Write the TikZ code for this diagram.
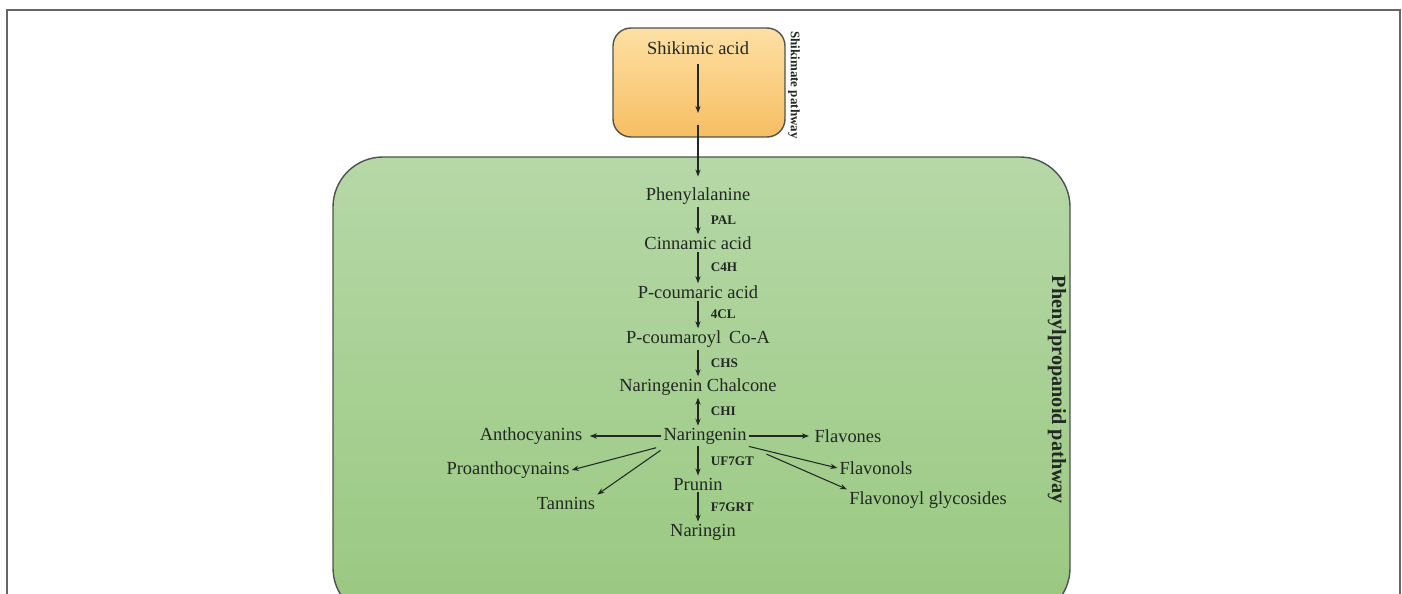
\documentclass[tikz,border=0pt]{standalone}
\usepackage{fontspec}
\setmainfont{Liberation Serif}
\usetikzlibrary{arrows.meta}
\definecolor{shiktop}{RGB}{253,224,164}
\definecolor{shikbot}{RGB}{247,190,98}
\definecolor{phentop}{RGB}{182,216,167}
\definecolor{phenbot}{RGB}{153,200,128}
\definecolor{ink}{RGB}{34,40,34}

\begin{document}
\begin{tikzpicture}[x=0.02cm,y=-0.02cm,>={Stealth[length=4pt,width=3pt]},line width=.6pt,
  txt/.style={font=\fontsize{10.5}{12}\selectfont,text=ink,inner sep=1pt},
  enz/.style={font=\bfseries\fontsize{7.5}{8}\selectfont,text=ink,right,inner sep=1pt,xshift=6pt},
  flow/.style={->,draw=ink},
  side/.style={rotate=-90,font=\bfseries,text=ink,inner sep=0pt}]
\useasboundingbox (0,0) rectangle (1402,594);
\clip (0,0) rectangle (1402,594);

% frame and pathway boxes
\draw[gray!80!black,line width=.8pt] (7,600) -- (7,10) -- (1400,10) -- (1400,600);
\draw[draw=ink!80,line width=.8pt,rounded corners=0.36cm,top color=shiktop,bottom color=shikbot]
  (613,28) rectangle (785,137);
\draw[draw=ink!80,line width=.8pt,rounded corners=1cm,top color=phentop,bottom color=phenbot]
  (333,157) rectangle (1070,618);

\node[side,font=\bfseries\fontsize{7.4}{8}\selectfont] (shp) at (794,85) {Shikimate pathway};
\node[side,font=\bfseries\fontsize{11.5}{13}\selectfont] (ppl) at (1057,390) {Phenylpropanoid pathway};

% main chain
\node[txt] (shik) at (698,48) {Shikimic acid};
\coordinate (s1) at (698,113);
\coordinate (s2) at (698,125);
\node[txt] (phe) at (698,196) {Phenylalanine};
\node[txt] (cin) at (698,243) {Cinnamic acid};
\node[txt] (pcou) at (698,292) {P-coumaric acid};
\node[txt] (pcoa) at (698,339) {P-coumaroyl\, Co-A};
\node[txt] (chal) at (698,387) {Naringenin Chalcone};
\node[txt] (nar) at (705,436) {Naringenin};
\node[txt] (prun) at (698,484) {Prunin};
\node[txt] (ngin) at (703,532) {Naringin};

% branches
\node[txt] (anth) at (531,436) {Anthocyanins};
\node[txt] (pro) at (508,470) {Proanthocynains};
\node[txt] (tan) at (566,503) {Tannins};
\node[txt] (flav) at (848,436) {Flavones};
\node[txt] (fvl) at (876,468) {Flavonols};
\node[txt] (fgly) at (928,500) {Flavonoyl glycosides};

\draw[flow] (shik.south) ++(0,-4pt) -- (s1);
\draw[flow] (s2) -- ([yshift=5pt]phe.north);
\draw[flow] (phe) -- node[enz]{PAL} (cin);
\draw[flow] (cin) -- node[enz]{C4H} (pcou);
\draw[flow] (pcou) -- node[enz]{4CL} (pcoa);
\draw[flow] (pcoa) -- node[enz]{CHS} (chal);
\draw[flow,<->] (chal.south) -- node[enz]{CHI} (chal.south |- nar.north);
\draw[flow] (prun |- nar.south) -- node[enz]{UF7GT} (prun);
\draw[flow] (prun.south) -- node[enz]{F7GRT} (prun.south |- ngin.north);

\draw[flow,shorten >=3pt] (nar) -- (anth);
\draw[flow,shorten >=2pt] (nar) -- (flav);
\draw[flow,shorten <=3pt] (nar.south west) -- (pro.east);
\draw[flow,shorten <=4pt] (nar.195) -- (tan.north east);
\draw[flow] (nar.south east) -- (fvl.west);
\draw[flow,shorten <=11pt] (nar.south east) -- (fgly.north west);
\end{tikzpicture}
\end{document}
